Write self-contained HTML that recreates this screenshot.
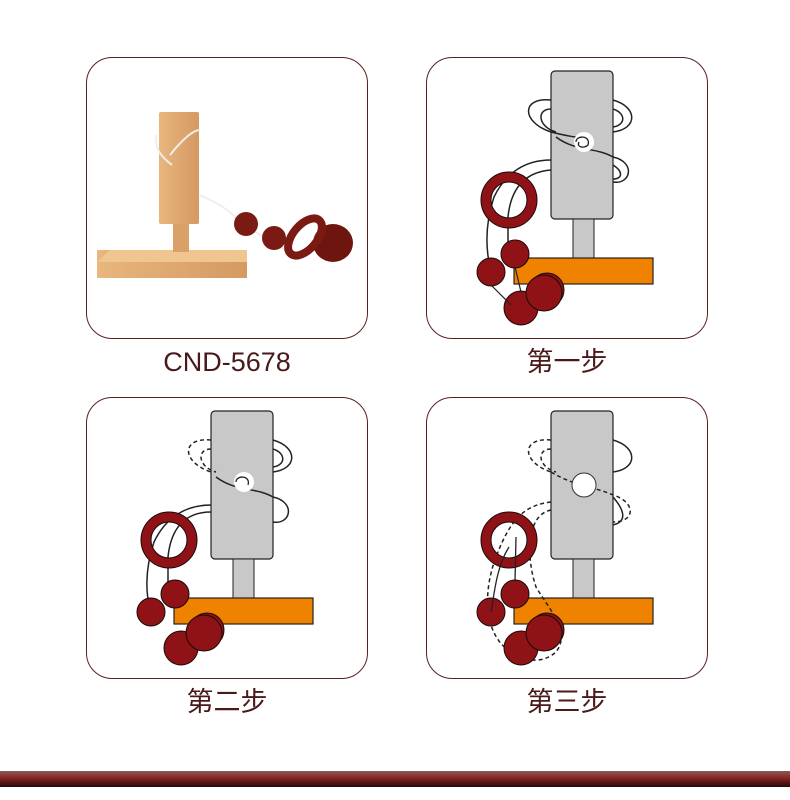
<!DOCTYPE html>
<html><head><meta charset="utf-8"><style>
body{margin:0;width:790px;height:800px;background:#fff;overflow:hidden;position:relative;font-family:"Liberation Sans","Noto Sans CJK SC",sans-serif}
.p{position:absolute;width:282px;height:282px;border:1.3px solid #5a2020;border-radius:26px;box-sizing:border-box}
.l{position:absolute;width:282px;text-align:center;font-size:27px;color:#4a1a1a;line-height:30px}
.bar{position:absolute;left:0;top:771px;width:790px;height:16px;background:linear-gradient(#8a5a58,#8a2a26 40%,#5a1414 70%,#2a0808)}
svg{position:absolute;left:0;top:0}
</style></head><body>
<div class="p" style="left:86px;top:57px"></div>
<div class="p" style="left:426px;top:57px"></div>
<div class="p" style="left:86px;top:397px"></div>
<div class="p" style="left:426px;top:397px"></div>
<div class="l" style="left:86px;top:347px">CND-5678</div>
<div class="l" style="left:426px;top:347px">第一步</div>
<div class="l" style="left:86px;top:687px">第二步</div>
<div class="l" style="left:426px;top:687px">第三步</div>
<div class="bar"></div>
<svg width="790" height="800">
<defs>
<linearGradient id="w" x1="0" x2="1"><stop offset="0" stop-color="#e8b67e"/><stop offset="1" stop-color="#d49a62"/></linearGradient>
<g id="base">
<rect x="125" y="14" width="62" height="148" rx="4" fill="#c8c8c9" stroke="#222" stroke-width="1.2"/>
<rect x="147" y="162" width="21" height="39" fill="#c8c8c9" stroke="#222" stroke-width="1"/>
<rect x="88" y="201" width="139" height="26" fill="#ef8300" stroke="#222" stroke-width="1.2"/>
</g>
<g id="beads" fill="#8e1216" stroke="#1a0a0a" stroke-width="1">
<circle cx="83" cy="143" r="23" fill="none" stroke="#1a0a0a" stroke-width="11"/>
<circle cx="83" cy="143" r="23" fill="none" stroke="#8e1216" stroke-width="9"/>
<circle cx="89" cy="197" r="14"/><circle cx="65" cy="215" r="14"/>
<circle cx="95" cy="251" r="17"/><circle cx="121" cy="233" r="17"/><circle cx="118" cy="236" r="18"/>
</g>
</defs>
<g>
<rect x="97" y="250" width="150" height="28" fill="url(#w)"/>
<polygon points="97,262 110,250 247,250 247,262" fill="#f0c690"/>
<rect x="173" y="222" width="16" height="30" fill="#d9a068"/>
<rect x="159" y="112" width="40" height="112" rx="2" fill="url(#w)"/>
<path d="M157 135 Q152 150 172 165 M170 155 Q190 130 200 130 M199 195 Q225 205 240 222 Q260 235 285 250" fill="none" stroke="#eee" stroke-width="2"/>
<circle cx="246" cy="224" r="12" fill="#7a1a12"/>
<circle cx="274" cy="238" r="12" fill="#7a1a12"/>
<ellipse cx="333" cy="243" rx="20" ry="19" fill="#6e150f"/>
<ellipse cx="305" cy="237" rx="12" ry="22" transform="rotate(40 305 237)" fill="none" stroke="#7a1a12" stroke-width="8"/>
</g>
<g transform="translate(426,57)">
<use href="#base"/>
<path d="M125 43 C95 40 95 65 125 75 M125 52 C110 52 112 70 130 75 M187 43 C212 50 212 72 187 75 M187 52 C200 56 200 68 187 70 M125 75 C145 80 150 80 165 82 M130 80 C150 95 170 90 187 100 C210 105 205 128 187 125 M187 108 C198 115 196 122 187 122 M125 103 C100 103 80 115 68 140 C58 170 60 195 65 215 M125 113 C100 115 85 130 82 160 L82 185" fill="none" stroke="#222" stroke-width="1.5"/>
<circle cx="158" cy="85" r="10" fill="#fff"/>
<path d="M150 85 C150 78 165 78 162 88 C158 92 150 90 153 85" fill="none" stroke="#222" stroke-width="1.3"/>
<use href="#beads"/>
<path d="M89 210 L95 235 M65 228 L85 248" stroke="#222" stroke-width="1.2"/>
</g>
<g transform="translate(86,397)">
<use href="#base"/>
<path d="M125 43 C95 40 95 65 125 75 M125 52 C110 52 112 70 130 75" fill="none" stroke="#222" stroke-width="1.5" stroke-dasharray="4 3"/>
<path d="M187 43 C212 50 212 72 187 75 M187 52 C200 56 200 68 187 70 M130 80 C150 95 170 90 187 100 C210 105 205 128 187 125 M125 115 C100 115 85 130 82 160 L82 185 M125 108 C100 108 80 120 68 145 C58 175 60 200 65 215" fill="none" stroke="#222" stroke-width="1.5"/>
<circle cx="158" cy="85" r="10" fill="#fff"/>
<path d="M150 85 C150 78 165 78 162 88" fill="none" stroke="#222" stroke-width="1.3"/>
<use href="#beads"/>
</g>
<g transform="translate(426,397)">
<use href="#base"/>
<path d="M125 43 C95 40 95 65 125 75 M125 52 C110 52 112 70 130 75 M125 75 C150 90 170 90 187 98 C210 105 210 125 187 125 M125 105 C100 108 85 120 70 160 C55 200 60 240 85 255 M125 113 C100 118 100 160 110 190 C125 215 145 235 130 255 C115 268 100 262 95 260" fill="none" stroke="#222" stroke-width="1.5" stroke-dasharray="4 3"/>
<path d="M187 43 C212 50 212 72 187 75 M187 100 C200 115 200 125 187 128" fill="none" stroke="#222" stroke-width="1.5"/>
<circle cx="158" cy="88" r="12" fill="#fff" stroke="#333"/>
<use href="#beads"/>
<path d="M83 150 C70 170 68 200 65 215 M90 140 L89 185" fill="none" stroke="#222" stroke-width="1.3"/>
</g>
</svg>
</body></html>
